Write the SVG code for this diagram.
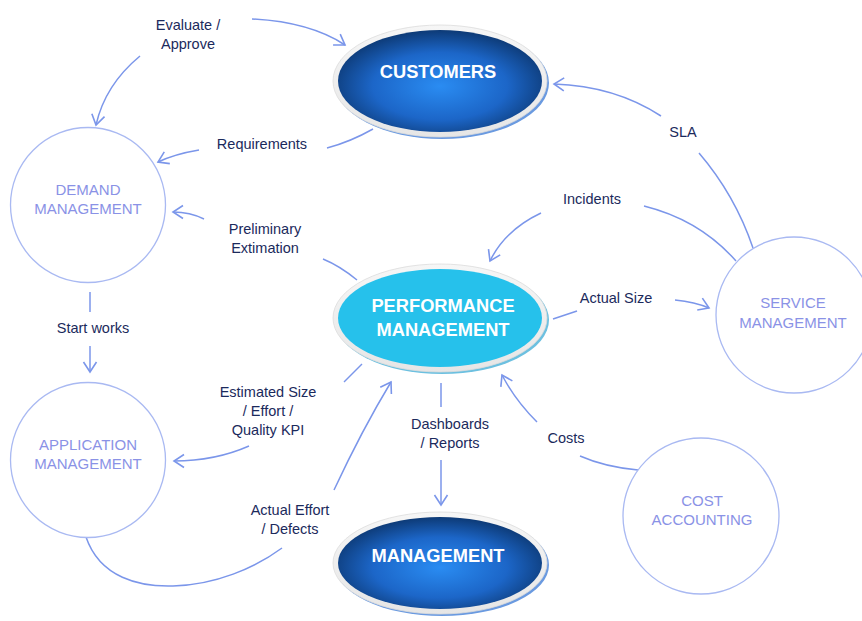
<svg xmlns="http://www.w3.org/2000/svg" width="862" height="621" viewBox="0 0 862 621">
<defs>
<radialGradient id="gDark" cx="50%" cy="55%" r="55%">
<stop offset="0" stop-color="#2a8cf2"/>
<stop offset="0.6" stop-color="#1c66c8"/>
<stop offset="1" stop-color="#0d3a76"/>
</radialGradient>
<linearGradient id="gRing" x1="0" y1="0" x2="0" y2="1">
<stop offset="0" stop-color="#f6f6f6"/>
<stop offset="1" stop-color="#e6e6e6"/>
</linearGradient>
<marker id="arr" markerUnits="userSpaceOnUse" markerWidth="16" markerHeight="16" viewBox="-12 -8 14 16" refX="0" refY="0" orient="auto">
<path d="M-10,-6.5 L0,0 L-10,6.5" fill="none" stroke="#7b96ea" stroke-width="1.6"/>
</marker>
</defs>
<style>
.c{fill:none;stroke:#7b96ea;stroke-width:1.5}
.a{marker-end:url(#arr)}
.lbl{font-family:"Liberation Sans",Arial,sans-serif;font-size:14.5px;fill:#1b2a5c;text-anchor:middle}
.ntxt{font-family:"Liberation Sans",Arial,sans-serif;font-size:15px;fill:#8a92e6;text-anchor:middle}
.circ{fill:#fff;stroke:#a9b9f2;stroke-width:1.3}
.big{font-family:"Liberation Sans",Arial,sans-serif;font-weight:bold;font-size:18.3px;fill:#fff;text-anchor:middle}
.ring{fill:url(#gRing);stroke:#dcdcdc;stroke-width:0.8}
</style>
<rect width="862" height="621" fill="#fff"/>

<g id="connectors">
<path class="c a" d="M252,19 Q310,22 345,45"/>
<path class="c a" d="M140,56 Q105,85 96,125"/>
<path class="c" d="M373,129 Q350,142 327,148"/>
<path class="c a" d="M199,150 Q175,154 158,162"/>
<path class="c" d="M357,280 Q340,266 323,259"/>
<path class="c a" d="M204,219 Q190,212 173,212"/>
<path class="c" d="M90,292 L90,312"/>
<path class="c a" d="M90,346 L90,372"/>
<path class="c" d="M362,364 L344,382"/>
<path class="c a" d="M249,446 Q215,461 174,461"/>
<path class="c" d="M86,537 C100,578 140,587 173,586 C215,585 255,568 282,548"/>
<path class="c a" d="M334,490 Q362,430 391,382"/>
<path class="c" d="M441,383 L441,407"/>
<path class="c a" d="M441,460 L441,505"/>
<path class="c a" d="M537,422 Q515,400 502,375"/>
<path class="c" d="M580,456 Q605,467 638,470"/>
<path class="c" d="M553,319 L577,311"/>
<path class="c a" d="M675,300 Q695,302 709,308"/>
<path class="c a" d="M541,213 Q505,230 490,261"/>
<path class="c" d="M644,206 Q700,220 736,261"/>
<path class="c" d="M699,153 Q735,195 753,248"/>
<path class="c a" d="M661,116 Q615,86 554,84"/>
</g>

<g id="labels">
<text class="lbl" x="188" y="30">Evaluate /</text>
<text class="lbl" x="188" y="49">Approve</text>
<text class="lbl" x="262" y="149">Requirements</text>
<text class="lbl" x="265" y="234">Preliminary</text>
<text class="lbl" x="265" y="253">Extimation</text>
<text class="lbl" x="93" y="333">Start works</text>
<text class="lbl" x="268" y="397">Estimated Size</text>
<text class="lbl" x="268" y="416">/ Effort /</text>
<text class="lbl" x="268" y="435">Quality KPI</text>
<text class="lbl" x="290" y="515">Actual Effort</text>
<text class="lbl" x="290" y="534">/ Defects</text>
<text class="lbl" x="450" y="429">Dashboards</text>
<text class="lbl" x="450" y="448">/ Reports</text>
<text class="lbl" x="566" y="443">Costs</text>
<text class="lbl" x="616" y="303">Actual Size</text>
<text class="lbl" x="592" y="204">Incidents</text>
<text class="lbl" x="683" y="137">SLA</text>
</g>

<g id="customers">
<ellipse cx="442" cy="83" rx="107" ry="56" fill="#6a9ae0"/>
<ellipse class="ring" cx="440" cy="81" rx="107" ry="56"/>
<ellipse cx="440" cy="81" rx="102" ry="51" fill="url(#gDark)"/>
<text class="big" x="438" y="78">CUSTOMERS</text>
</g>

<g id="performance">
<ellipse cx="442" cy="320" rx="107" ry="54" fill="#6cc0e0"/>
<ellipse class="ring" cx="440" cy="318" rx="107" ry="54"/>
<ellipse cx="440" cy="318" rx="102" ry="49" fill="#26c1eb"/>
<text class="big" x="443" y="312">PERFORMANCE</text>
<text class="big" x="443" y="336">MANAGEMENT</text>
</g>

<g id="management">
<ellipse cx="442" cy="565" rx="107" ry="51" fill="#6a9ae0"/>
<ellipse class="ring" cx="440" cy="563" rx="107" ry="51"/>
<ellipse cx="440" cy="563" rx="102" ry="46" fill="url(#gDark)"/>
<text class="big" x="438" y="562">MANAGEMENT</text>
</g>

<g id="demand">
<circle class="circ" cx="88" cy="205" r="77.5"/>
<text class="ntxt" x="88" y="195">DEMAND</text>
<text class="ntxt" x="88" y="214">MANAGEMENT</text>
</g>

<g id="application">
<circle class="circ" cx="88" cy="460" r="77.5"/>
<text class="ntxt" x="88" y="450">APPLICATION</text>
<text class="ntxt" x="88" y="469">MANAGEMENT</text>
</g>

<g id="service">
<circle class="circ" cx="794" cy="315" r="78"/>
<text class="ntxt" x="793" y="308">SERVICE</text>
<text class="ntxt" x="793" y="328">MANAGEMENT</text>
</g>

<g id="cost">
<circle class="circ" cx="701" cy="516" r="78"/>
<text class="ntxt" x="702" y="506">COST</text>
<text class="ntxt" x="702" y="525">ACCOUNTING</text>
</g>
</svg>
